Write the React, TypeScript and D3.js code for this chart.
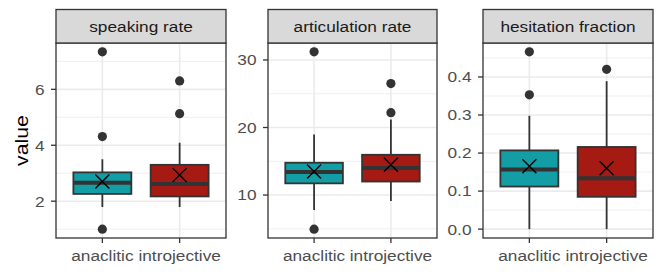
import { useEffect, useRef } from "react";
import * as d3 from "d3";

const groups = ["anaclitic", "introjective"];
const metrics = ["speaking rate", "articulation rate", "hesitation fraction"];

// box summaries per metric, one entry per group: [lower whisker, q1, median, q3, upper whisker]
const speakingBox = [
  [1.79, 2.26, 2.66, 3.03, 3.5],
  [1.79, 2.17, 2.61, 3.3, 4.09],
];
const articulationBox = [
  [7.8, 11.73, 13.4, 14.78, 18.95],
  [9.1, 12.0, 14.0, 15.96, 21.2],
];
const hesitationBox = [
  [0.0, 0.112, 0.157, 0.207, 0.298],
  [0.0, 0.085, 0.134, 0.216, 0.389],
];

const speakingMean = [2.7, 2.94];
const articulationMean = [13.5, 14.5];
const hesitationMean = [0.165, 0.16];

const speakingOutliers = [[1.0, 4.31, 7.34], [5.13, 6.3]];
const articulationOutliers = [[4.95, 31.2], [22.2, 26.5]];
const hesitationOutliers = [[0.353, 0.466], [0.42]];

const speakingTicks = [2, 4, 6];
const articulationTicks = [10, 20, 30];
const hesitationTicks = [0, 0.1, 0.2, 0.3, 0.4];
const speakingTickLabels = ["2", "4", "6"];
const articulationTickLabels = ["10", "20", "30"];
const hesitationTickLabels = ["0.0", "0.1", "0.2", "0.3", "0.4"];
const speakingMinor = [1, 3, 5, 7];
const articulationMinor = [5, 15, 25];
const hesitationMinor = [0.05, 0.15, 0.25, 0.35, 0.45];

const fills = ["#139DA5", "#A51A12"];

const App = () => {
  const svgRef = useRef<SVGSVGElement>(null);

  useEffect(() => {
    const w = 664;
    const h = 276;
    const svg = d3.select(svgRef.current).attr("width", w).attr("height", h);
    svg.selectAll("*").remove();

    const font = "'Liberation Sans', Arial, sans-serif";
    const sx = 1.15; // text in the reference runs wide
    const top = 43;
    const bottom = 238;
    const stripTop = 9.5;

    const panels = [
      { left: 56, right: 226, box: speakingBox, mean: speakingMean, out: speakingOutliers, ticks: speakingTicks, labels: speakingTickLabels, minor: speakingMinor },
      { left: 268, right: 437, box: articulationBox, mean: articulationMean, out: articulationOutliers, ticks: articulationTicks, labels: articulationTickLabels, minor: articulationMinor },
      { left: 483, right: 653, box: hesitationBox, mean: hesitationMean, out: hesitationOutliers, ticks: hesitationTicks, labels: hesitationTickLabels, minor: hesitationMinor },
    ];

    panels.forEach((p, pi) => {
      const g = svg.append("g");
      const all = p.box.flat().concat(p.out.flat());
      const lo = d3.min(all)!;
      const hi = d3.max(all)!;
      const pad = (hi - lo) * 0.05;
      const y = d3.scaleLinear().domain([lo - pad, hi + pad]).range([bottom, top]);
      const x = d3.scalePoint().domain(groups).range([p.left, p.right]).padding(0.6);
      const bw = x.step() * 0.75;

      // grid
      g.selectAll(".minor").data(p.minor.filter((v) => y(v) > top && y(v) < bottom)).join("line")
        .attr("x1", p.left).attr("x2", p.right)
        .attr("y1", (d) => y(d)).attr("y2", (d) => y(d))
        .attr("stroke", "#EBEBEB").attr("stroke-width", 0.8);
      g.selectAll(".major").data(p.ticks).join("line")
        .attr("x1", p.left).attr("x2", p.right)
        .attr("y1", (d) => y(d)).attr("y2", (d) => y(d))
        .attr("stroke", "#EBEBEB").attr("stroke-width", 1.6);
      g.selectAll(".vgrid").data(groups).join("line")
        .attr("x1", (d) => x(d)!).attr("x2", (d) => x(d)!)
        .attr("y1", top).attr("y2", bottom)
        .attr("stroke", "#EBEBEB").attr("stroke-width", 1.6);

      groups.forEach((grp, gi) => {
        const cx = x(grp)!;
        const [wl, q1, med, q3, wh] = p.box[gi];
        g.append("line").attr("x1", cx).attr("x2", cx).attr("y1", y(wh)).attr("y2", y(q3))
          .attr("stroke", "#333333").attr("stroke-width", 1.8);
        g.append("line").attr("x1", cx).attr("x2", cx).attr("y1", y(q1)).attr("y2", y(wl))
          .attr("stroke", "#333333").attr("stroke-width", 1.8);
        g.append("rect").attr("x", cx - bw / 2).attr("width", bw)
          .attr("y", y(q3)).attr("height", y(q1) - y(q3))
          .attr("fill", fills[gi]).attr("stroke", "#333333").attr("stroke-width", 1.8);
        g.append("line").attr("x1", cx - bw / 2).attr("x2", cx + bw / 2)
          .attr("y1", y(med)).attr("y2", y(med))
          .attr("stroke", "#333333").attr("stroke-width", 4);
        g.selectAll(null).data(p.out[gi]).join("circle")
          .attr("cx", cx).attr("cy", (d) => y(d)).attr("r", 4.6).attr("fill", "#333333");
        const my = y(p.mean[gi]);
        const s = 7;
        g.append("path")
          .attr("d", `M${cx - s},${my - s}L${cx + s},${my + s}M${cx - s},${my + s}L${cx + s},${my - s}`)
          .attr("stroke", "#000").attr("stroke-width", 1.4).attr("fill", "none");
      });

      // panel border
      g.append("rect").attr("x", p.left).attr("y", top).attr("width", p.right - p.left).attr("height", bottom - top)
        .attr("fill", "none").attr("stroke", "#333333").attr("stroke-width", 1.3);

      // strip
      g.append("rect").attr("x", p.left).attr("y", stripTop).attr("width", p.right - p.left).attr("height", top - stripTop)
        .attr("fill", "#D9D9D9").attr("stroke", "#333333").attr("stroke-width", 1.3);
      g.append("text")
        .attr("transform", `translate(${(p.left + p.right) / 2},32) scale(${sx},1)`)
        .attr("text-anchor", "middle").attr("font-family", font).attr("font-size", 15)
        .attr("fill", "#1A1A1A").text(metrics[pi]);

      // y axis ticks
      g.selectAll(".ytick").data(p.ticks).join("line")
        .attr("x1", p.left - 5).attr("x2", p.left)
        .attr("y1", (d) => y(d)).attr("y2", (d) => y(d))
        .attr("stroke", "#333333").attr("stroke-width", 1.3);
      g.selectAll(".ylab").data(p.ticks).join("text")
        .attr("transform", (d) => `translate(${p.left - 11.5},${y(d) + 5.4}) scale(${sx},1)`)
        .attr("text-anchor", "end").attr("font-family", font).attr("font-size", 15)
        .attr("fill", "#4D4D4D").text((_, i) => p.labels[i]);

      // x axis ticks
      g.selectAll(".xtick").data(groups).join("line")
        .attr("x1", (d) => x(d)!).attr("x2", (d) => x(d)!)
        .attr("y1", bottom).attr("y2", bottom + 5)
        .attr("stroke", "#333333").attr("stroke-width", 1.3);
      g.selectAll(".xlab").data(groups).join("text")
        .attr("transform", (d) => `translate(${x(d)},261) scale(${sx},1)`)
        .attr("text-anchor", "middle").attr("font-family", font).attr("font-size", 15)
        .attr("fill", "#4D4D4D").text((d) => d);
    });

    svg.append("text")
      .attr("transform", `translate(28,${(top + bottom) / 2}) rotate(-90) scale(${sx},1)`)
      .attr("text-anchor", "middle").attr("font-family", font).attr("font-size", 18.5)
      .attr("fill", "#000").text("value");
  }, []);

  return <svg ref={svgRef} style={{ position: "absolute", left: 0, top: 0 }}></svg>;
};

export default App;
